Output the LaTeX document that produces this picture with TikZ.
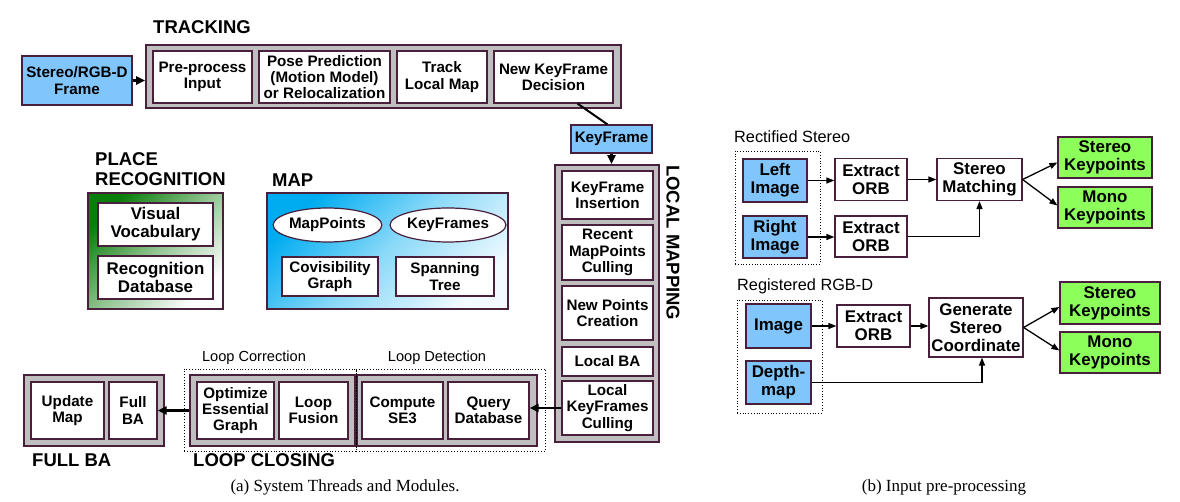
\documentclass[tikz,border=0pt]{standalone}
\usepackage{fontspec}
\setmainfont{Liberation Sans}
\newfontfamily\capfont{Liberation Serif}
\usetikzlibrary{arrows.meta,shapes.geometric,calc}
\definecolor{bcol}{RGB}{72,32,60}
\definecolor{grayfill}{RGB}{191,191,191}
\definecolor{kfblue}{RGB}{128,198,252}
\definecolor{kpgreen}{RGB}{140,255,90}
\definecolor{mapA}{RGB}{0,172,240}
\definecolor{mapB}{RGB}{240,250,255}
\definecolor{prA}{RGB}{10,125,10}
\definecolor{prB}{RGB}{255,255,255}
\begin{document}
\begin{tikzpicture}[x=1pt,y=-1pt,
  bx/.style={draw=bcol, line width=1.2pt, fill=white, align=center, inner sep=0pt, font=\bfseries\fontsize{15.2}{16.2}\selectfont},
  bxb/.style={bx, font=\bfseries\fontsize{16.9}{17.8}\selectfont},
  grp/.style={draw=bcol, line width=1.6pt, fill=grayfill, inner sep=0pt},
  ttl/.style={font=\bfseries\fontsize{18.5}{20}\selectfont, inner sep=0pt, align=left},
  sub/.style={font=\fontsize{14.6}{16}\selectfont, inner sep=0pt},
  subb/.style={font=\fontsize{16.3}{18}\selectfont, inner sep=0pt},
  dotbox/.style={draw=black, dotted, line width=0.8pt, inner sep=0pt},
  arr/.style={-{Triangle[length=9pt,width=8pt]}, line width=2.2pt},
  arrb/.style={-{Triangle[length=8pt,width=6pt]}, line width=1.3pt},
  ell/.style={ellipse, draw=bcol, line width=1.2pt, fill=white, inner sep=0pt, font=\bfseries\fontsize{15.2}{16}\selectfont}
]
\useasboundingbox (0,0) rectangle (1180,502);

% ---------------- TRACKING ----------------
\node[ttl,anchor=west] (trkt) at (153,27) {TRACKING};
\node[grp,minimum width=475pt,minimum height=63pt] (trk) at (383.5,76.5) {};
\node[bx,fill=kfblue,minimum width=110pt,minimum height=49pt] (frame) at (77,80.5) {Stereo/RGB-D\\Frame};
\node[bx,minimum width=99pt,minimum height=52pt] (pre) at (202.5,77) {Pre-process\\Input};
\node[bx,minimum width=131pt,minimum height=52pt] (pose) at (324.5,77) {Pose Prediction\\(Motion Model)\\or Relocalization};
\node[bx,minimum width=90pt,minimum height=52pt] (tlm) at (442,77) {Track\\Local Map};
\node[bx,minimum width=119pt,minimum height=52pt] (nkf) at (553.5,77) {New KeyFrame\\Decision};
\draw[arr] (frame.east) -- (frame.east -| trk.west);

% ---------------- KEYFRAME + LOCAL MAPPING ----------------
\node[bx,fill=kfblue,minimum width=81pt,minimum height=28pt] (kf) at (611.5,139) {KeyFrame};
\draw[line width=2pt] ($(nkf.south west)!0.7!(nkf.south east)$) -- ($(kf.north west)!0.45!(kf.north east)$);
\node[grp,minimum width=104pt,minimum height=277pt] (lm) at (607,303.5) {};
\draw[arr] (kf.south) -- (kf.south |- lm.north);
\node[bx,minimum width=91pt,minimum height=48pt] (kfi) at (607.5,195) {KeyFrame\\Insertion};
\node[bx,minimum width=91pt,minimum height=55pt] (rmc) at (607.5,252.5) {Recent\\MapPoints\\Culling};
\node[bx,minimum width=91pt,minimum height=54pt] (npc) at (607.5,313) {New Points\\Creation};
\node[bx,minimum width=91pt,minimum height=29pt] (lba) at (607.5,361.5) {Local BA};
\node[bx,minimum width=91pt,minimum height=54pt] (lkc) at (607.5,408) {Local\\KeyFrames\\Culling};
\node[ttl,rotate=-90,anchor=west] (lmt) at (673,165) {LOCAL MAPPING};

% ---------------- PLACE RECOGNITION ----------------
\node[ttl,anchor=north west,font=\bfseries\fontsize{18.5}{20}\selectfont] (prt) at (95,152) {PLACE\\RECOGNITION};
\node[draw=bcol,line width=1.2pt,minimum width=135pt,minimum height=116pt,inner sep=0pt,
      top color=prA,bottom color=prB,middle color=prA!45!white,shading angle=45] (pr) at (155.5,251) {};
\node[bxb,minimum width=115pt,minimum height=43pt] (vv) at (155.5,224.5) {Visual\\Vocabulary};
\node[bxb,minimum width=115pt,minimum height=43pt] (rd) at (155.5,277.5) {Recognition\\Database};

% ---------------- MAP ----------------
\node[ttl,anchor=west] (mapt) at (272,180) {MAP};
\node[draw=bcol,line width=1.2pt,minimum width=241pt,minimum height=116pt,inner sep=0pt,
      top color=mapA,bottom color=mapB,middle color=mapA!45!white,shading angle=45] (map) at (387.5,251) {};
\node[ell,minimum width=105pt,minimum height=34pt] (mp) at (327.5,225) {MapPoints};
\node[ell,minimum width=104pt,minimum height=34pt] (kfs) at (448,225) {KeyFrames};
\node[bx,minimum width=96pt,minimum height=39pt] (cg) at (330,276.5) {Covisibility\\Graph};
\node[bx,minimum width=98pt,minimum height=39pt] (st) at (445,276.5) {Spanning\\Tree};

% ---------------- FULL BA / LOOP CLOSING ----------------
\node[grp,minimum width=140pt,minimum height=71pt] (fba) at (94,410.5) {};
\node[bx,minimum width=73pt,minimum height=57pt] (um) at (67.5,410.5) {Update\\Map};
\node[bx,minimum width=48pt,minimum height=57pt] (fb) at (133,410.5) {Full\\BA};
\node[grp,minimum width=165pt,minimum height=71pt] (lc) at (272.5,410.5) {};
\node[bx,minimum width=77pt,minimum height=57pt] (oeg) at (235.5,410.5) {Optimize\\Essential\\Graph};
\node[bx,minimum width=69pt,minimum height=57pt] (lf) at (313.5,410.5) {Loop\\Fusion};
\node[grp,minimum width=180pt,minimum height=71pt] (ld) at (447,410.5) {};
\node[bx,minimum width=81pt,minimum height=57pt] (cse) at (402.5,410.5) {Compute\\SE3};
\node[bx,minimum width=81pt,minimum height=57pt] (qd) at (488.5,410.5) {Query\\Database};
\node[dotbox,minimum width=172pt,minimum height=82pt] (dlc) at (270,410) {};
\node[dotbox,minimum width=189pt,minimum height=82pt] (dld) at (450.5,410) {};
\node[sub] (lct) at (254,358) {Loop Correction};
\node[sub] (ldt) at (437,358) {Loop Detection};
\node[ttl,anchor=west] (fbat) at (32,460) {FULL BA};
\node[ttl,anchor=west] (lclt) at (193,460) {LOOP CLOSING};
\draw[arr] (lkc.west) -- (lkc.west -| qd.east);
\draw[arr] (lc.west) -- (lc.west -| fb.east);

% ---------------- PANEL (b): RECTIFIED STEREO ----------------
\node[subb,anchor=west] (rst) at (734,137) {Rectified Stereo};
\node[dotbox,minimum width=85pt,minimum height=113pt] (dsb) at (777.5,207.5) {};
\node[bxb,fill=kfblue,minimum width=64pt,minimum height=43pt] (li) at (775,180.5) {Left\\Image};
\node[bxb,fill=kfblue,minimum width=64pt,minimum height=42pt] (ri) at (775,237) {Right\\Image};
\node[bxb,minimum width=72pt,minimum height=42pt] (eo1) at (871,179.5) {Extract\\ORB};
\node[bxb,minimum width=72pt,minimum height=41pt] (eo2) at (871,236.5) {Extract\\ORB};
\node[bxb,minimum width=85pt,minimum height=42pt] (sm) at (979.5,179.5) {Stereo\\Matching};
\node[bxb,fill=kpgreen,minimum width=94pt,minimum height=41pt] (skp1) at (1105,157.5) {Stereo\\Keypoints};
\node[bxb,fill=kpgreen,minimum width=94pt,minimum height=41pt] (mkp1) at (1105,207.5) {Mono\\Keypoints};
\draw[arrb] (li.east) -- (li.east -| eo1.west);
\draw[arrb] (eo1.east) -- (eo1.east -| sm.west);
\draw[arrb] (ri.east) -- (ri.east -| eo2.west);
\draw[arrb] (eo2.east) -| (sm.south);
\draw[arrb] (sm.east) -- ([yshift=-5pt]skp1.west);
\draw[arrb] (sm.east) -- ([yshift=2pt]mkp1.west);

% ---------------- PANEL (b): REGISTERED RGB-D ----------------
\node[subb,anchor=west] (rrt) at (737,286) {Registered RGB-D};
\node[dotbox,minimum width=85pt,minimum height=113pt] (drb) at (779.5,356.5) {};
\node[bxb,fill=kfblue,minimum width=65pt,minimum height=44pt] (img) at (778.5,326) {Image};
\node[bxb,fill=kfblue,minimum width=65pt,minimum height=43pt] (dm) at (778.5,382.5) {Depth-\\map};
\node[bxb,minimum width=73pt,minimum height=42pt] (eo3) at (873.5,326) {Extract\\ORB};
\node[bxb,minimum width=94pt,minimum height=59pt,font=\bfseries\fontsize{16.9}{18.2}\selectfont] (gsc) at (976,327.5) {Generate\\Stereo\\Coordinate};
\node[bxb,fill=kpgreen,minimum width=100pt,minimum height=42pt] (skp2) at (1110,303) {Stereo\\Keypoints};
\node[bxb,fill=kpgreen,minimum width=100pt,minimum height=41pt] (mkp2) at (1110,352.5) {Mono\\Keypoints};
\draw[arrb] (img.east) -- (img.east -| eo3.west);
\draw[arrb] (eo3.east) -- (eo3.east -| gsc.west);
\draw[arrb] (dm.east) -| ([xshift=6pt]gsc.south);
\draw[arrb] (gsc.east) -- ([yshift=-4pt]skp2.west);
\draw[arrb] (gsc.east) -- ([yshift=2pt]mkp2.west);

% ---------------- CAPTIONS ----------------
\node[font=\capfont\fontsize{17}{20}\selectfont,inner sep=0pt] (capa) at (345,487) {(a) System Threads and Modules.};
\node[font=\capfont\fontsize{17}{20}\selectfont,inner sep=0pt] (capb) at (944,487) {(b) Input pre-processing};
\end{tikzpicture}
\end{document}
